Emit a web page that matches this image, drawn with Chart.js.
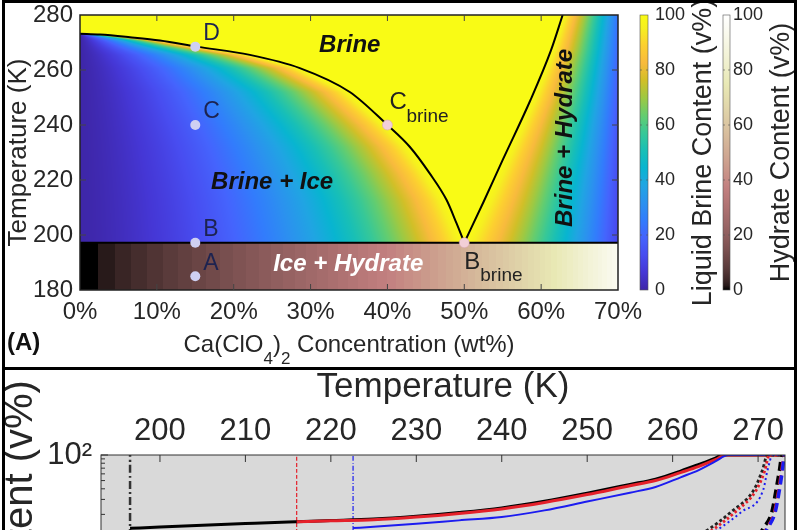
<!DOCTYPE html>
<html>
<head>
<meta charset="utf-8">
<script src="https://cdn.jsdelivr.net/npm/chart.js@4.4.1/dist/chart.umd.min.js"></script>
<style>
  html, body { margin: 0; padding: 0; background: #fff; overflow: hidden; width: 800px; height: 530px; }
  #top { position: absolute; left: 0; top: 0; width: 800px; height: 367px; }
  #bottom { position: absolute; left: 0; top: 367px; width: 800px; height: 394px; }
  .frame { position: absolute; border: 3px solid #000; box-sizing: border-box; pointer-events: none; }
</style>
</head>
<body>
<div id="top"><canvas id="phase"></canvas></div>
<div id="bottom"><canvas id="content"></canvas></div>
<div class="frame" style="left:2px;top:0;width:795px;height:370px"></div>
<div class="frame" style="left:2px;top:367px;width:795px;height:320px"></div>
<script>
// ---- panel A: phase diagram ----
const concTicks = [0, 10, 20, 30, 40, 50, 60, 70];
const tempTicks = [180, 200, 220, 240, 260, 280];
const colorTicks = [0, 20, 40, 60, 80, 100];

// ice liquidus (wt%, K)
const iceConc = [0, 2.6, 6.5, 10.4, 15.2, 22.1, 28.6, 35.1, 40, 42.9, 45.5, 47.7, 49, 50];
const iceTemp = [273.2, 272.9, 271.9, 270.7, 268.5, 265.5, 260.7, 252, 240, 232.1, 222.4, 212.7, 204.2, 197.2];
// hydrate solubility line
const hydConc = [50, 52.5, 55, 58.6, 61.3, 62.8];
const hydTemp = [197.2, 212, 227.3, 249, 267.3, 280];
const eutecticTemp = 197.2;

const pointNames = ['A', 'B', 'C', 'D'];
const pointConc = [15, 15, 15, 15];
const pointTemp = [185, 197.2, 240, 268.5];
const brineNames = ['C', 'B'];
const brineConc = [40, 50];
const brineTemp = [240, 197.2];

// ---- panel B: brine content vs temperature ----
const tempTicksB = [200, 210, 220, 230, 240, 250, 260, 270];
const logTicks = [100];
const blackT = [196.5, 200, 205, 210, 215, 220, 225, 230, 235, 240, 245, 250, 255, 258, 261, 263, 265, 265.8, 273.15];
const blackV = [13.7, 14.2, 14.9, 15.6, 16.3, 16.9, 17.6, 19.0, 21.0, 23.8, 28.5, 35.5, 45, 52, 65, 77, 92, 100, 100];
const redT = [216, 220, 225, 230, 235, 240, 245, 250, 255, 258, 261, 263, 265, 266.2, 273.15];
const redV = [16.4, 16.8, 17.3, 18.6, 20.5, 23.2, 27.6, 34.2, 43.5, 50, 62.5, 73, 88, 100, 100];
const blueT = [222.6, 225, 230, 235, 240, 245, 250, 255, 258, 261, 263, 265, 266.5, 273.15];
const blueV = [13.8, 14.3, 15.5, 17.0, 18.6, 22.3, 28.3, 36, 42, 55, 66, 84, 100, 100];
const onsetT = [196.5, 216, 222.6];   // black, red, blue
const onsetV = [0.025, 100];
const blackDotT = [262.8, 264.3, 266.8, 269.5, 270.5, 271.1, 273.15];
const blackDotV = [11, 13.5, 21.2, 38.8, 66, 100, 100];
const redDotT = [263.5, 265.1, 267.3, 269.8, 270.8, 271.3, 273.15];
const redDotV = [11, 14.1, 21.2, 38.8, 66, 100, 100];
const blueDotT = [264, 265.5, 268.0, 270.6, 271.1, 271.7, 273.15];
const blueDotV = [11, 13.7, 21.2, 38.8, 66, 100, 100];
const blackDashT = [270.0, 270.6, 271.6, 272.1, 272.5, 272.8, 273.15];
const blackDashV = [11, 13.7, 21.2, 38.8, 66, 100, 100];
const redDashT = [270.4, 271.0, 271.9, 272.4, 272.75, 273.05, 273.15];
const redDashV = [11, 13.7, 21.2, 38.8, 66, 100, 100];
const blueDashT = [270.5, 271.1, 272.0, 272.5, 272.85, 273.1, 273.15];
const blueDashV = [11, 13.7, 21.2, 38.8, 66, 100, 100];

const FONT = "'Liberation Sans', Arial, sans-serif";
Chart.defaults.font.family = FONT;
Chart.defaults.color = '#262626';

// colour maps (MATLAB parula / pink)
const parulaStops = [
  [.2422, .1504, .6603], [.2706, .2147, .8364], [.2813, .3006, .9414], [.2699, .3892, .9906],
  [.1963, .4847, .9892], [.1687, .5703, .9359], [.1248, .6459, .8883], [.0297, .7082, .8163],
  [.0964, .7500, .7120], [.2161, .7843, .5923], [.3909, .8029, .4354], [.6174, .7876, .2612],
  [.8203, .7498, .1535], [.9728, .7298, .2394], [.9892, .8136, .1885], [.9628, .9373, .1265],
  [.9769, .9839, .0805]];
const parulaPos = [0, 4, 8, 12, 16, 20, 24, 28, 32, 36, 40, 44, 48, 52, 56, 60, 63].map(i => i / 63);

function parula(v) {
  v = Math.max(0, Math.min(1, v));
  let i = 0;
  while (i < parulaPos.length - 2 && v > parulaPos[i + 1]) i++;
  const f = (v - parulaPos[i]) / (parulaPos[i + 1] - parulaPos[i]);
  const a = parulaStops[i], b = parulaStops[i + 1];
  return [0, 1, 2].map(k => Math.round(255 * (a[k] + f * (b[k] - a[k]))));
}

function pink(v) {
  const q = Math.min(63, Math.floor(Math.max(0, v) * 64)) / 63;
  const hot = [Math.min(1, q / 0.375), Math.min(1, Math.max(0, (q - 0.375) / 0.375)), Math.max(0, (q - 0.75) / 0.25)];
  return hot.map(h => Math.round(255 * Math.sqrt((2 * q + h) / 3)));
}

// lever rule + volume share, used only to shade the background
const hydrateComp = 72, rhoIce = 0.917, rhoHyd = 1.9;
function volShare(m, rhoA, rhoB) {
  const a = m / rhoA, b = (1 - m) / rhoB;
  return a / (a + b);
}
function concOnCurve(conc, temp, T) {
  for (let i = 0; i < temp.length - 1; i++) {
    const t0 = temp[i], t1 = temp[i + 1];
    if ((T - t0) * (T - t1) <= 0) {
      const f = t1 === t0 ? 0 : (T - t0) / (t1 - t0);
      return conc[i] + f * (conc[i + 1] - conc[i]);
    }
  }
  return null;
}
function phaseColor(c, T) {
  if (T < eutecticTemp) return pink(volShare(c / hydrateComp, rhoHyd, rhoIce));
  const cl = T > iceTemp[0] ? -1 : concOnCurve(iceConc, iceTemp, T);
  const crv = concOnCurve(hydConc, hydTemp, T);
  const cr = crv === null ? 100 : crv;
  if (c < cl) return parula(Math.pow(volShare(c / cl, 1 + 1.2 * cl / 100, rhoIce), 1.3));
  if (c > cr) return parula(volShare((hydrateComp - c) / (hydrateComp - cr), 1 + 1.2 * cr / 100, rhoHyd));
  return parula(1);
}

function drawText(ctx, text, x, y, font, color, align, baseline) {
  ctx.font = font;
  ctx.fillStyle = color;
  ctx.textAlign = align || 'left';
  ctx.textBaseline = baseline || 'alphabetic';
  ctx.fillText(text, x, y);
}

function rotatedText(ctx, text, x, y, font, color) {
  ctx.save();
  ctx.translate(x, y);
  ctx.rotate(-Math.PI / 2);
  drawText(ctx, text, 0, 0, font, color, 'center', 'middle');
  ctx.restore();
}

// fixed axis boxes: no extra padding from tick labels
const fixBox = (w, h) => s => {
  if (w !== null) s.width = w;
  if (h !== null) s.height = h;
  s.paddingTop = s.paddingBottom = s.paddingLeft = s.paddingRight = 0;
};
const noGrid = {display: false, drawTicks: false};

let heatCache = null;
const phasePlugin = {
  id: 'phase',
  beforeDatasetsDraw(chart) {
    const {ctx, chartArea: a, scales: {x, y}} = chart;
    const w = Math.round(a.right - a.left), h = Math.round(a.bottom - a.top);
    if (!heatCache || heatCache.width !== w || heatCache.height !== h) {
      heatCache = document.createElement('canvas');
      heatCache.width = w;
      heatCache.height = h;
      const hctx = heatCache.getContext('2d');
      const img = hctx.createImageData(w, h);
      for (let py = 0; py < h; py++) {
        const T = y.getValueForPixel(a.top + py + 0.5);
        for (let px = 0; px < w; px++) {
          const c = x.getValueForPixel(a.left + px + 0.5);
          const col = phaseColor(c, T);
          const k = (py * w + px) * 4;
          img.data[k] = col[0]; img.data[k + 1] = col[1]; img.data[k + 2] = col[2]; img.data[k + 3] = 255;
        }
      }
      hctx.putImageData(img, 0, 0);
    }
    ctx.drawImage(heatCache, a.left, a.top);
  },
  afterDatasetsDraw(chart) {
    const {ctx, chartArea: a, scales: {x, y, cb1, cb2}} = chart;
    ctx.save();
    // box + inside ticks
    ctx.strokeStyle = '#222';
    ctx.lineWidth = 1.5;
    ctx.strokeRect(a.left, a.top, a.right - a.left, a.bottom - a.top);
    ctx.lineWidth = 1;
    ctx.strokeStyle = '#444';
    ctx.beginPath();
    concTicks.slice(1, -1).forEach(v => {
      const px = x.getPixelForValue(v);
      ctx.moveTo(px, a.top); ctx.lineTo(px, a.top + 6);
      ctx.moveTo(px, a.bottom); ctx.lineTo(px, a.bottom - 6);
    });
    tempTicks.slice(1, -1).forEach(v => {
      const py = y.getPixelForValue(v);
      ctx.moveTo(a.left, py); ctx.lineTo(a.left + 6, py);
      ctx.moveTo(a.right, py); ctx.lineTo(a.right - 6, py);
    });
    ctx.stroke();

    // point labels
    const pf = '23px ' + FONT;
    pointNames.forEach((n, i) => {
      const px = x.getPixelForValue(pointConc[i]), py = y.getPixelForValue(pointTemp[i]);
      drawText(ctx, n, px + 8, py - 13, pf, '#1d2350', 'left', 'middle');
    });
    const cx = x.getPixelForValue(brineConc[0]), cy = y.getPixelForValue(brineTemp[0]);
    drawText(ctx, brineNames[0], cx + 2, cy - 16, '24px ' + FONT, '#222');
    drawText(ctx, 'brine', cx + 19, cy - 3, '19px ' + FONT, '#222');
    const bx = x.getPixelForValue(brineConc[1]), by = y.getPixelForValue(brineTemp[1]);
    drawText(ctx, brineNames[1], bx, by + 26, '24px ' + FONT, '#222');
    drawText(ctx, 'brine', bx + 16, by + 38, '19px ' + FONT, '#222');

    // region labels
    const bi = 'italic bold 24px ' + FONT;
    drawText(ctx, 'Brine', x.getPixelForValue(35.1), y.getPixelForValue(269), bi, '#111', 'center', 'middle');
    drawText(ctx, 'Brine + Ice', x.getPixelForValue(25), y.getPixelForValue(219.3), bi, '#111', 'center', 'middle');
    drawText(ctx, 'Ice + Hydrate', x.getPixelForValue(34.9), y.getPixelForValue(189.5), bi, '#fff', 'center', 'middle');
    rotatedText(ctx, 'Brine + Hydrate', x.getPixelForValue(63.2), y.getPixelForValue(235.3), bi, '#111');

    // x title with subscripts
    const parts = [['Ca(ClO', 24, 0], ['4', 17, 12], [')', 24, 0], ['2', 17, 12], [' Concentration (wt%)', 24, 0]];
    let tw = 0;
    parts.forEach(p => { ctx.font = p[1] + 'px ' + FONT; tw += ctx.measureText(p[0]).width; });
    let tx = (a.left + a.right) / 2 - tw / 2;
    parts.forEach(p => {
      drawText(ctx, p[0], tx, 352 + p[2], p[1] + 'px ' + FONT, '#262626');
      tx += ctx.measureText(p[0]).width;
    });
    drawText(ctx, '(A)', 7, 350, 'bold 24px ' + FONT, '#111');

    // colour bars
    [[cb1, 22, 8, parula], [cb2, 3, 7, pink]].forEach(([s, off, bw, map]) => {
      const top = s.getPixelForValue(100), bot = s.getPixelForValue(0);
      const g = ctx.createLinearGradient(0, bot, 0, top);
      for (let i = 0; i < 64; i++) {
        const col = map(i / 63);
        g.addColorStop(i / 63, `rgb(${col[0]},${col[1]},${col[2]})`);
      }
      ctx.fillStyle = g;
      ctx.fillRect(s.left + off, top, bw, bot - top);
      ctx.strokeStyle = '#555';
      ctx.lineWidth = 0.6;
      ctx.strokeRect(s.left + off, top, bw, bot - top);
      ctx.beginPath();
      colorTicks.slice(1, -1).forEach(v => {
        const py = s.getPixelForValue(v);
        ctx.moveTo(s.left + off, py); ctx.lineTo(s.left + off + 2, py);
        ctx.moveTo(s.left + off + bw, py); ctx.lineTo(s.left + off + bw - 2, py);
      });
      ctx.stroke();
    });
    const midY = (a.top + a.bottom) / 2;
    rotatedText(ctx, 'Liquid Brine Content (v%)', cb1.left + 86, midY, '27px ' + FONT, '#262626');
    rotatedText(ctx, 'Hydrate Content (v%)', cb2.left + 62, midY, '27px ' + FONT, '#262626');
    ctx.restore();
  }
};

const xy = (xs, ys) => xs.map((v, i) => ({x: v, y: ys[i]}));
const lineStyle = {borderColor: '#000', borderWidth: 2, pointRadius: 0, cubicInterpolationMode: 'monotone', fill: false};

new Chart(document.getElementById('phase'), {
  type: 'line',
  data: {
    datasets: [
      {label: 'points', data: xy(pointConc, pointTemp), showLine: false, pointRadius: 5,
       pointBackgroundColor: '#cfd0f2', pointBorderWidth: 0},
      {label: 'brine points', data: xy(brineConc, brineTemp), showLine: false, pointRadius: 5,
       pointBackgroundColor: '#f2cfd8', pointBorderColor: '#d9a7b4', pointBorderWidth: 0.6},
      {label: 'ice line', data: xy(iceConc, iceTemp), ...lineStyle},
      {label: 'hydrate line', data: xy(hydConc, hydTemp), ...lineStyle},
      {label: 'eutectic', data: [{x: concTicks[0], y: eutecticTemp}, {x: concTicks[concTicks.length - 1], y: eutecticTemp}], ...lineStyle}
    ]
  },
  options: {
    responsive: true,
    maintainAspectRatio: false,
    animation: false,
    layout: {padding: {top: 15, left: 0, right: 0, bottom: 0}},
    plugins: {legend: {display: false}, tooltip: {enabled: false}},
    scales: {
      x: {
        type: 'linear', min: 0, max: 70,
        afterBuildTicks: s => { s.ticks = concTicks.map(v => ({value: v})); },
        ticks: {callback: v => v + '%', font: {size: 24, lineHeight: 1}, padding: 10, maxRotation: 0, autoSkip: false},
        grid: noGrid, border: {display: false},
        afterFit: fixBox(null, 77)
      },
      y: {
        type: 'linear', min: 180, max: 280,
        afterBuildTicks: s => { s.ticks = tempTicks.map(v => ({value: v})); },
        ticks: {font: {size: 24, lineHeight: 1}, padding: 7},
        grid: noGrid, border: {display: false},
        title: {display: true, text: 'Temperature (K)', font: {size: 26, lineHeight: 1}, padding: {top: 6, bottom: 0}},
        afterFit: fixBox(80, null)
      },
      cb1: {
        type: 'linear', position: 'right', weight: 0, min: 0, max: 100,
        afterBuildTicks: s => { s.ticks = colorTicks.map(v => ({value: v})); },
        ticks: {font: {size: 18, lineHeight: 1}, padding: 37},
        grid: noGrid, border: {display: false},
        afterFit: fixBox(102, null)
      },
      cb2: {
        type: 'linear', position: 'right', weight: 1, min: 0, max: 100,
        afterBuildTicks: s => { s.ticks = colorTicks.map(v => ({value: v})); },
        ticks: {font: {size: 18, lineHeight: 1}, padding: 13},
        grid: noGrid, border: {display: false},
        afterFit: fixBox(80, null)
      }
    }
  },
  plugins: [phasePlugin]
});

// ---- panel B ----
const contentPlugin = {
  id: 'content',
  beforeDatasetsDraw(chart) {
    const {ctx, chartArea: a} = chart;
    ctx.save();
    ctx.fillStyle = '#d9d9d9';
    ctx.fillRect(a.left, a.top, a.right - a.left, a.bottom - a.top);
    ctx.restore();
  },
  afterDatasetsDraw(chart) {
    const {ctx, chartArea: a, scales: {x, y}} = chart;
    ctx.save();
    ctx.strokeStyle = '#333';
    ctx.lineWidth = 1;
    ctx.strokeRect(a.left, a.top, a.right - a.left, a.bottom - a.top);
    ctx.beginPath();
    tempTicksB.forEach(v => {
      const px = x.getPixelForValue(v);
      ctx.moveTo(px, a.top); ctx.lineTo(px, a.top + 7);
    });
    [0.1, 1, 10, 100].forEach(d => {
      for (let m = 1; m < 10; m++) {
        const v = d * m;
        if (v > 100 || v < y.min) continue;
        const py = y.getPixelForValue(v);
        ctx.moveTo(a.left, py); ctx.lineTo(a.left + (m === 1 ? 7 : 4), py);
      }
    });
    ctx.stroke();
    ctx.restore();
  }
};

const sup = {1: '10\u2070', 10: '10\u00b9', 100: '10\u00b2'};
const curve = (xs, ys, color, width, dash) => ({
  data: xy(xs, ys), borderColor: color, borderWidth: width, borderDash: dash || [],
  pointRadius: 0, cubicInterpolationMode: 'monotone', fill: false
});
const RED = '#e5202a', BLUE = '#1c1cf0';

new Chart(document.getElementById('content'), {
  type: 'line',
  data: {
    datasets: [
      curve(blueDashT, blueDashV, BLUE, 3.5, [9, 5]),
      curve(redDashT, redDashV, RED, 3, [9, 5]),
      curve(blackDashT, blackDashV, '#000', 3.5, [9, 5]),
      curve(blueDotT, blueDotV, BLUE, 2, [2, 3]),
      curve(redDotT, redDotV, RED, 2.8, [2.5, 2.5]),
      curve(blackDotT, blackDotV, '#222', 2.8, [3, 2.5]),
      curve(blueT, blueV, BLUE, 2),
      curve(redT, redV, RED, 3),
      curve(blackT, blackV, '#000', 3),
      curve([onsetT[0], onsetT[0]], onsetV, '#333', 2.5, [8, 3, 2, 3]),
      curve([onsetT[1], onsetT[1]], onsetV, RED, 1.2, [4, 2]),
      curve([onsetT[2], onsetT[2]], onsetV, BLUE, 1.2, [5, 2, 1, 2])
    ]
  },
  options: {
    responsive: true,
    maintainAspectRatio: false,
    animation: false,
    layout: {padding: {top: 0, left: 0, right: 15, bottom: 0}},
    plugins: {legend: {display: false}, tooltip: {enabled: false}},
    scales: {
      x: {
        type: 'linear', position: 'top', min: 193.1, max: 273.15,
        afterBuildTicks: s => { s.ticks = tempTicksB.map(v => ({value: v})); },
        ticks: {font: {size: 31, lineHeight: 1}, padding: 8.5, maxRotation: 0, autoSkip: false},
        grid: noGrid, border: {display: false},
        title: {display: true, text: 'Temperature (K)', font: {size: 35, lineHeight: 1}, padding: {top: 3, bottom: 0}},
        afterFit: fixBox(null, 88)
      },
      y: {
        type: 'logarithmic', min: 0.025, max: 100,
        afterBuildTicks: s => { s.ticks = logTicks.map(v => ({value: v})); },
        ticks: {font: {size: 31, lineHeight: 1}, padding: 9, callback: v => sup[v] || ''},
        grid: noGrid, border: {display: false},
        title: {display: true, text: 'Liquid Brine Content (v%)', font: {size: 40, lineHeight: 1}, padding: {top: 1, bottom: 0}},
        afterFit: fixBox(101, null)
      }
    }
  },
  plugins: [contentPlugin]
});
</script>
</body>
</html>
